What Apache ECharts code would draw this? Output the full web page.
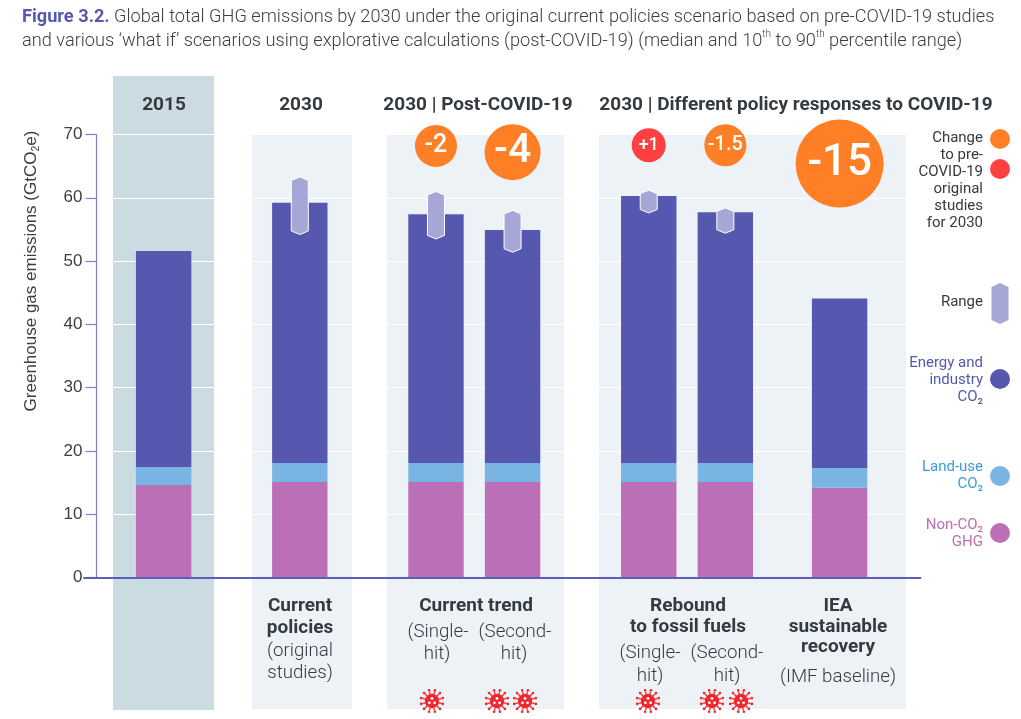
<!DOCTYPE html>
<html>
<head>
<meta charset="utf-8">
<style>
  html, body { margin: 0; padding: 0; background: #fff; }
  #chart { width: 1021px; height: 719px; }
</style>
<script src="https://cdn.jsdelivr.net/npm/echarts@6/dist/echarts.min.js"></script>
</head>
<body>
<div id="chart"></div>
<script>
// Data (GtCO2e)
const scenarios = ['2015', 'Current policies', 'Trend single-hit', 'Trend second-hit', 'Rebound single-hit', 'Rebound second-hit', 'IEA sustainable recovery'];
const nonCo2 = [14.6, 15.1, 15.1, 15.1, 15.1, 15.1, 14.2];
const landUse = [2.85, 3, 3, 3, 3, 3, 3.1];
const energy = [34.15, 41.1, 39.3, 36.8, 42.2, 39.6, 26.8];
const rangeLow = [null, 54.2, 53.5, 51.4, 57.6, 54.4, null];
const rangeHigh = [null, 63.3, 61.0, 58.0, 61.2, 58.4, null];
const changes = [null, null, '-2', '-4', '+1', '-1.5', '-15'];
const yTicks = [0, 10, 20, 30, 40, 50, 60, 70];

// Layout: blank slots on the category axis so bars land where the figure has them
const SLOT = 1.2158;
const LEAD = 65;
const GAPS = [112, 112, 63, 112, 63, 94];
const TOTAL = 688;
const slotOf = [];
GAPS.reduce((pos, gap, i) => { slotOf[i] = pos; return pos + gap; }, LEAD);
slotOf[GAPS.length] = GAPS.reduce((a, b) => a + b, LEAD);
const axisSlots = Array.from({ length: TOTAL }, (_, i) => {
  const idx = slotOf.indexOf(i);
  return idx >= 0 ? scenarios[idx] : '';
});
const onSlots = (values) => {
  const out = new Array(TOTAL).fill(null);
  values.forEach((v, i) => { out[slotOf[i]] = v; });
  return out;
};

const colors = {
  energy: '#5558ae', land: '#7ab4e2', non: '#bb6fb7', range: '#a6a7d7',
  orange: '#ff7f27', red: '#ff4040', text: '#333a40', panel: '#edf2f7', panelDark: '#cbdbe2'
};
const FONT = 'Roboto';

// Bubble look per change value
const bubbleY = [null, null, 68.2, 67.2, 68.3, 68.3, 65.4];
const bubbleSize = [null, null, 42, 56, 34, 42, 88];
const bubbleFont = [null, null, 25, 41, 18, 20, 44];

const panel = (x, y, w, h, fill) => ({ type: 'rect', z: -5, silent: true, shape: { x, y, width: w, height: h }, style: { fill } });

const text = (str, x, y, opts = {}) => ({
  type: 'text', x, y, z: 5, silent: true,
  style: {
    text: str,
    fontFamily: opts.family || FONT, fontSize: opts.size || 17.5, fontWeight: opts.weight || 400,
    fill: opts.fill || colors.text, align: opts.align || 'center', verticalAlign: 'middle',
    lineHeight: opts.lineHeight
  }
});

const dot = (cx, cy, r, fill) => ({ type: 'circle', z: 5, silent: true, shape: { cx, cy, r }, style: { fill } });

// Little red virus icon under the scenario labels
const virus = (cx, cy) => {
  const children = [dot(cx, cy, 7.2, '#f0282d')];
  for (let i = 0; i < 12; i++) {
    const a = i * Math.PI / 6 + Math.PI / 12;
    children.push({
      type: 'line', z: 5, silent: true,
      shape: { x1: cx + 6 * Math.cos(a), y1: cy + 6 * Math.sin(a), x2: cx + 10 * Math.cos(a), y2: cy + 10 * Math.sin(a) },
      style: { stroke: '#f0282d', lineWidth: 1.2 }
    });
    children.push(dot(cx + 11.2 * Math.cos(a), cy + 11.2 * Math.sin(a), 1.3, '#f0282d'));
  }
  children.push(dot(cx, cy - 2.6, 1.4, '#fff'), dot(cx - 2.6, cy + 1.8, 1.4, '#fff'), dot(cx + 2.6, cy + 1.8, 1.4, '#fff'));
  return { type: 'group', children };
};

const hexPoints = (cx, top, bottom, halfW, tip) => [
  [cx, top], [cx + halfW, top + tip], [cx + halfW, bottom - tip],
  [cx, bottom], [cx - halfW, bottom - tip], [cx - halfW, top + tip]
];

const chart = echarts.init(document.getElementById('chart'), null, { renderer: 'canvas' });

const bold = { weight: 700, size: 19 };
const light = { weight: 300, size: 18.7 };
const legendText = { align: 'right', size: 15, lineHeight: 17 };

chart.setOption({
  backgroundColor: '#ffffff',
  animation: false,
  textStyle: { fontFamily: FONT },
  title: {
    left: 17, top: 0,
    text: '{b|Figure 3.2.} Global total GHG emissions by 2030 under the original current policies scenario based on pre-COVID-19 studies\nand various ‘what if’ scenarios using explorative calculations (post-COVID-19) (median and 10{s|th} to 90{s|th} percentile range)',
    textStyle: {
      fontFamily: FONT, fontSize: 18.2, fontWeight: 300, color: '#3a3f45', lineHeight: 24.5,
      rich: {
        b: { fontFamily: FONT, fontSize: 18.2, fontWeight: 700, color: colors.energy, lineHeight: 24.5 },
        s: { fontFamily: FONT, fontSize: 10, fontWeight: 300, color: '#3a3f45', verticalAlign: 'top', lineHeight: 24.5 }
      }
    }
  },
  grid: { left: 84, top: 134.5, width: SLOT * TOTAL, height: 443 },
  xAxis: {
    type: 'category',
    data: axisSlots,
    axisTick: { show: false },
    axisLabel: { show: false },
    axisLine: { lineStyle: { color: '#5b5fb5', width: 2 } },
    z: 6
  },
  yAxis: {
    type: 'value', min: 0, max: 70, interval: 10, offset: -12.5,
    axisLine: { show: true, lineStyle: { color: '#7d81c9', width: 1.2 } },
    axisTick: { show: true, length: 11, lineStyle: { color: '#7d81c9', width: 1.2 } },
    axisLabel: {
      margin: 14,
      color: '#3a3f45', fontFamily: 'Liberation Sans', fontSize: 17,
      formatter: (v) => (yTicks.includes(v) ? String(v) : '')
    },
    splitLine: { show: true, lineStyle: { color: '#ffffff', width: 1.2 } }
  },
  series: [
    { name: 'Non-CO2 GHG', type: 'bar', stack: 'total', barWidth: 55.4, itemStyle: { color: colors.non }, data: onSlots(nonCo2), z: 2 },
    { name: 'Land-use CO2', type: 'bar', stack: 'total', barWidth: 55.4, itemStyle: { color: colors.land }, data: onSlots(landUse), z: 2 },
    { name: 'Energy and industry CO2', type: 'bar', stack: 'total', barWidth: 55.4, itemStyle: { color: colors.energy }, data: onSlots(energy), z: 2 },
    {
      name: 'Range', type: 'custom', z: 3,
      data: rangeLow.map((low, i) => (low === null ? null : [slotOf[i], low, rangeHigh[i]])).filter(Boolean),
      encode: { x: 0, y: [1, 2] },
      renderItem: (params, api) => {
        const top = api.coord([api.value(0), api.value(2)]);
        const bottom = api.coord([api.value(0), api.value(1)]);
        return {
          type: 'polygon',
          shape: { points: hexPoints(top[0], top[1], bottom[1], 8.5, 3.5) },
          style: { fill: colors.range, stroke: '#ffffff', lineWidth: 1 }
        };
      }
    },
    {
      name: 'Change', type: 'scatter', z: 4,
      data: changes.map((c, i) => (c === null ? null : {
        value: [slotOf[i], bubbleY[i]],
        symbolSize: bubbleSize[i],
        itemStyle: { color: c.startsWith('+') ? colors.red : colors.orange, opacity: 1 },
        label: { show: true, position: 'inside', formatter: c, color: '#fff', fontFamily: FONT, fontWeight: 500, fontSize: bubbleFont[i] }
      })).filter(Boolean)
    }
  ],
  graphic: {
    elements: [
      // Panels behind the plot
      panel(113, 76, 101, 634, colors.panelDark),
      panel(252, 135, 100, 574, colors.panel),
      panel(387, 135, 177, 574, colors.panel),
      panel(599, 135, 307, 574, colors.panel),

      // Axis title, rotated
      {
        type: 'text', x: 31, y: 271, rotation: Math.PI / 2, z: 5, silent: true,
        style: {
          text: 'Greenhouse gas emissions (GtCO{sub|2}e)',
          fontFamily: 'Liberation Sans', fontSize: 17, fill: '#3a3f45', align: 'center', verticalAlign: 'middle',
          rich: { sub: { fontFamily: 'Liberation Sans', fontSize: 10.5, fill: '#3a3f45', verticalAlign: 'bottom', lineHeight: 21 } }
        }
      },

      // Column headers
      text('2015', 164, 105, bold),
      text('2030', 301, 105, bold),
      text('2030 | Post-COVID-19', 478, 105, bold),
      text('2030 | Different policy responses to COVID-19', 796, 105, bold),

      // Labels under the axis
      text('Current', 300, 606, bold),
      text('policies', 300, 628, bold),
      text('(original', 300, 651, light),
      text('studies)', 300, 673, light),

      text('Current trend', 476, 606, bold),
      text('(Single-', 438, 632, light),
      text('hit)', 437, 654, light),
      text('(Second-', 515, 632, light),
      text('hit)', 514, 654, light),

      text('Rebound', 688, 606, bold),
      text('to fossil fuels', 688, 627, bold),
      text('(Single-', 650, 653, light),
      text('hit)', 650, 676, light),
      text('(Second-', 727, 653, light),
      text('hit)', 727, 676, light),

      text('IEA', 838, 606, bold),
      text('sustainable', 838, 627, bold),
      text('recovery', 838, 647, bold),
      text('(IMF baseline)', 838, 677, light),

      virus(432, 701), virus(497, 701), virus(525, 701),
      virus(648, 701), virus(712, 701), virus(741, 701),

      // Legend on the right
      text('Change\nto pre-\nCOVID-19\noriginal\nstudies\nfor 2030', 983, 181, legendText),
      dot(1000, 139, 10, colors.orange),
      dot(1000, 169, 10, colors.red),
      text('Range', 983, 302, legendText),
      {
        type: 'polygon', z: 5, silent: true,
        shape: { points: hexPoints(1000, 283, 324, 8.5, 4) },
        style: { fill: colors.range }
      },
      text('Energy and\nindustry\nCO₂', 983, 380, { ...legendText, fill: colors.energy }),
      dot(1000, 379, 10, colors.energy),
      text('Land-use\nCO₂', 983, 476, { ...legendText, fill: '#3d9bdb' }),
      dot(1000, 476, 10, colors.land),
      text('Non-CO₂\nGHG', 983, 534, { ...legendText, fill: colors.non }),
      dot(1000, 533, 10, colors.non)
    ]
  }
});

window.addEventListener('resize', () => chart.resize());
</script>
</body>
</html>
